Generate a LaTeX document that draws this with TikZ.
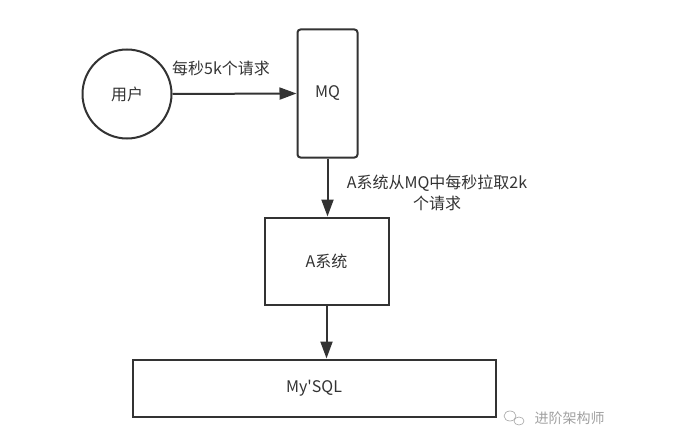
\documentclass[tikz,border=0pt]{standalone}
\usepackage{fontspec}
\setmainfont{Noto Sans CJK SC}
\usetikzlibrary{arrows.meta, positioning}
\definecolor{linegray}{RGB}{51,51,51}
\definecolor{textgray}{RGB}{51,51,51}
\definecolor{markgray}{RGB}{160,160,160}

\begin{document}
\begin{tikzpicture}[
    x=1pt, y=-1pt,
    font=\fontsize{16}{21}\selectfont,
    every node/.style = {text=textgray},
    actor/.style = {circle, draw=linegray, line width=2pt, minimum size=89pt, inner sep=0pt},
    queue/.style = {rectangle, draw=linegray, line width=2pt, rounded corners=3pt,
                    minimum width=60pt, minimum height=128pt, inner sep=0pt},
    sys/.style   = {rectangle, draw=linegray, line width=2pt,
                    minimum width=124pt, minimum height=87pt, inner sep=0pt},
    db/.style    = {rectangle, draw=linegray, line width=2pt,
                    minimum width=363pt, minimum height=57pt, inner sep=0pt},
    arr/.style   = {-{Triangle[length=17pt,width=12pt]}, line width=2pt, draw=linegray},
    lbl/.style   = {align=center, inner sep=1pt},
]
\useasboundingbox (0,0) rectangle (690,444);

% ---------------- nodes ----------------
\node[actor] (user) at (127,94) {用户};
\node[queue] (mq) at (327.5,93.5) {MQ};
\node[sys] (asys) at (326.5,261) {A系统};
\node[db] (mysql) at (314,388) {My\textquotesingle SQL};

% ---------------- connectors ----------------
\draw[arr] (user.east) -- (mq.west);
\node[lbl] (inlbl) at (221,68) {每秒5k个请求};
\draw[arr] (mq.south) -- (mq.south |- asys.north);
\node[lbl] (pulllbl) at (437,192.5) {A系统从MQ中每秒拉取2k\\个请求};
\draw[arr] (asys.south) -- (asys.south |- mysql.north);

% ---------------- watermark ----------------
\draw[markgray, line width=0.6pt] (510,416) ellipse (6pt and 5pt);
\draw[markgray, line width=0.6pt] (519,421) ellipse (5pt and 4pt);
\node[text=markgray, font=\fontsize{14}{16}\selectfont, anchor=west] (mark) at (531,418) {进阶架构师};

\end{tikzpicture}
\end{document}
